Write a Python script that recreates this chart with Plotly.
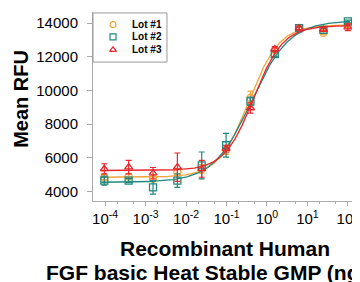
import numpy as np
import plotly.graph_objects as go

# Concentrations (ng/mL), 4-fold dilutions from 100
conc = [100 / 4**i for i in range(10, -1, -1)]

lot1 = [4850, 4890, 4750, 5150, 5350, 6450, 9560, 12400, 13650, 13420, 13850]
lot1_err = [150, 150, 150, 200, 250, 250, 400, 150, 100, 100, 100]
lot2 = [4650, 4650, 4250, 4650, 5550, 6750, 9360, 12160, 13700, 13600, 14100]
lot2_err = [270, 120, 400, 400, 800, 700, 250, 150, 100, 100, 80]
lot3 = [5350, 5450, 5090, 5450, 5350, 6550, 8960, 12460, 13700, 13620, 13760]
lot3_err = [300, 400, 340, 840, 500, 200, 300, 150, 120, 100, 200]

# 4PL fit parameters: bottom, top, EC50, Hill
fit1 = dict(bottom=4850, top=13900, ec50=0.36, hill=1.15)
fit2 = dict(bottom=4550, top=14150, ec50=0.41, hill=0.92)
fit3 = dict(bottom=5250, top=13850, ec50=0.47, hill=1.2)

names = ["Lot #1", "Lot #2", "Lot #3"]
colors = ["#F2A33A", "#22887E", "#E8262B"]
symbols = ["circle-open", "square-open", "triangle-up-open"]

x_tickvals = [1e-4, 1e-3, 1e-2, 1e-1, 1e0, 1e1, 1e2]
x_ticktext = ["10<sup>-4</sup>", "10<sup>-3</sup>", "10<sup>-2</sup>", "10<sup>-1</sup>",
              "10<sup>0</sup>", "10<sup>1</sup>", "10<sup>2</sup>"]
y_tickvals = [4000, 6000, 8000, 10000, 12000, 14000]

x_title_lines = ["Recombinant Human", "FGF basic Heat Stable GMP (ng/mL)"]
y_title = "Mean RFU"

FONT = "Liberation Sans, Arial, sans-serif"

fig = go.Figure()
xs = np.logspace(-4.1, 2.05, 300)
for vals, errs, fit, name, col, sym in zip(
        [lot1, lot2, lot3], [lot1_err, lot2_err, lot3_err], [fit1, fit2, fit3],
        names, colors, symbols):
    ys = fit["bottom"] + (fit["top"] - fit["bottom"]) / (1 + (fit["ec50"] / xs) ** fit["hill"])
    fig.add_trace(go.Scatter(x=xs, y=ys, mode="lines", line=dict(color=col, width=1.3),
                             showlegend=False, hoverinfo="skip"))
    fig.add_trace(go.Scatter(
        x=conc, y=vals, mode="markers", name=name, showlegend=False,
        marker=dict(symbol=sym, color=col, size=7, line=dict(width=1.3, color=col)),
        error_y=dict(type="data", array=errs, color=col, thickness=1.2, width=3),
    ))

# Custom compact legend (overlay axes in 0..1 units over the plot area)
leg_x0, leg_x1, leg_y0, leg_y1 = 0.0, 0.277, 0.735, 0.995
leg_marker_x = 0.075
leg_text_x = 0.137
leg_rows = [0.933, 0.868, 0.800]
for name, col, sym, ry in zip(names, colors, symbols, leg_rows):
    fig.add_trace(go.Scatter(
        x=[leg_marker_x], y=[ry], mode="markers", xaxis="x2", yaxis="y2",
        marker=dict(symbol=sym, color=col, size=6, line=dict(width=1.2, color=col)),
        showlegend=False, hoverinfo="skip"))
    fig.add_annotation(x=leg_text_x, y=ry, xref="x2", yref="y2", text="<b>" + name + "</b>",
                       showarrow=False, xanchor="left", yanchor="middle",
                       font=dict(size=10, family=FONT, color="black"))
fig.add_shape(type="rect", xref="paper", yref="paper", x0=leg_x0, x1=leg_x1,
              y0=leg_y0, y1=leg_y1, line=dict(color="#999999", width=1),
              fillcolor="rgba(0,0,0,0)", layer="above")

# Axis titles as annotations (tight line spacing like the reference)
for txt, yy in zip(x_title_lines, [-0.249, -0.376]):
    fig.add_annotation(x=0.496, y=yy, xref="paper", yref="paper", text="<b>" + txt + "</b>",
                       showarrow=False, xanchor="center", yanchor="middle",
                       font=dict(size=21, family=FONT, color="black"))
fig.add_annotation(x=-0.27, y=0.54, xref="paper", yref="paper", text="<b>" + y_title + "</b>",
                   showarrow=False, xanchor="center", yanchor="middle", textangle=-90,
                   font=dict(size=20, family=FONT, color="black"))

# The page body adds an 8px offset, so margins are shifted to compensate
fig.update_layout(
    width=360, height=282,
    margin=dict(l=85, r=8, t=4, b=89),
    paper_bgcolor="white", plot_bgcolor="white",
    font=dict(family=FONT, color="black"),
    showlegend=False,
    xaxis=dict(
        type="log", range=[-4.3, 2.3], tickmode="array",
        tickvals=x_tickvals, ticktext=x_ticktext,
        showgrid=False, showline=True, linecolor="#AAAAAA", linewidth=1,
        ticks="outside", ticklen=4, tickcolor="#AAAAAA",
        minor=dict(ticks="outside", ticklen=2, tickcolor="#AAAAAA", showgrid=False),
        tickfont=dict(size=15), automargin=False,
        zeroline=False,
    ),
    yaxis=dict(
        range=[3440, 14660], tickmode="array", tickvals=y_tickvals,
        ticktext=[str(v) for v in y_tickvals],
        showgrid=False, showline=True, linecolor="#AAAAAA", linewidth=1,
        ticks="outside", ticklen=5, tickcolor="#AAAAAA",
        tickfont=dict(size=15), ticklabelstandoff=6, automargin=False,
        zeroline=False,
    ),
    xaxis2=dict(overlaying="x", range=[0, 1], visible=False, fixedrange=True),
    yaxis2=dict(overlaying="y", range=[0, 1], visible=False, fixedrange=True),
)

fig.write_html("out.html")
